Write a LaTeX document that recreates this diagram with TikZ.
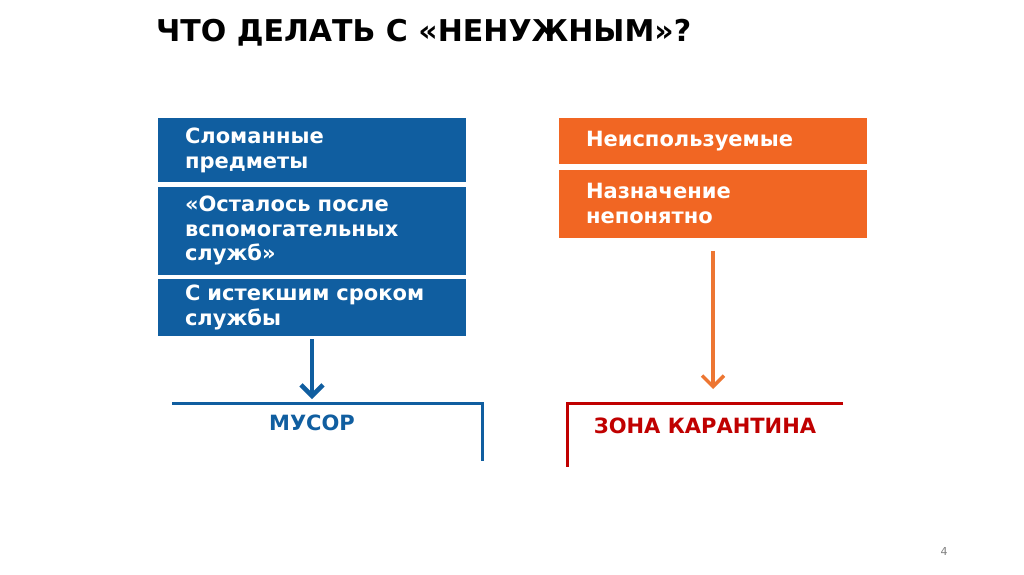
\documentclass[tikz,border=0pt]{standalone}
\usepackage{fontspec}
\setmainfont{DejaVu Sans}
\usetikzlibrary{positioning,arrows.meta}
\definecolor{boxblue}{RGB}{16,94,160}
\definecolor{boxorange}{RGB}{241,102,35}
\definecolor{arroworange}{RGB}{237,118,50}
\definecolor{zonered}{RGB}{192,0,0}
\tikzset{
	item/.style={text=white, font=\bfseries\fontsize{21}{24.5}\selectfont, inner xsep=27pt, inner ysep=0pt, text width=254pt, align=left},
	blueitem/.style={item, fill=boxblue},
	orangeitem/.style={item, fill=boxorange},
	zonelabel/.style={anchor=base, font=\bfseries\fontsize{21}{24}\selectfont},
	downarrow/.style={-{Straight Barb[length=11pt,width=22pt]}},
	bracket/.style={line width=3pt}
}
\begin{document}
\begin{tikzpicture}[x=1pt,y=-1pt]
	\useasboundingbox[fill=white] (0,0) rectangle (1024,574);

	% title
	\node[anchor=base west, inner sep=0pt, font=\bfseries\fontsize{30}{34}\selectfont] (title) at (156,41) {ЧТО ДЕЛАТЬ С «НЕНУЖНЫМ»?};

	% left column
	\node[blueitem, anchor=north, minimum height=64pt] (broken) at (312,118) {Сломанные\\предметы};
	\node[blueitem, anchor=north, minimum height=88pt, below=4pt of broken] (leftover) {«Осталось после вспомогательных служб»};
	\node[blueitem, anchor=north, minimum height=57pt, below=4pt of leftover] (expired) {С истекшим сроком службы};

	% right column
	\node[orangeitem, anchor=north, minimum height=46pt] (unused) at (713,118) {Неиспользуемые};
	\node[orangeitem, anchor=north, minimum height=68pt, below=5pt of unused] (unclear) {Назначение\\непонятно};

	% trash
	\coordinate (trashL) at (172,403);
	\coordinate (trashR) at (482,403);
	\coordinate (trashE) at (482,461);
	\coordinate (trashtip) at (312,399);
	\draw[bracket, boxblue] (trashL) -- (trashR) -- (trashE);
	\node[zonelabel, text=boxblue] (trash) at (312,430) {МУСОР};
	\draw[downarrow, boxblue, line width=4.5pt] ([yshift=-3pt]expired.south) -- (trashtip);

	% quarantine
	\coordinate (quarR) at (843,403);
	\coordinate (quarL) at (567,403);
	\coordinate (quarE) at (567,467);
	\coordinate (quartip) at (713,389);
	\draw[bracket, zonered] (quarR) -- (quarL) -- (quarE);
	\node[zonelabel, text=zonered] (quarantine) at (705,433) {ЗОНА КАРАНТИНА};
	\draw[downarrow, arroworange, line width=3.5pt] ([yshift=-13pt]unclear.south) -- (quartip);

	% page number
	\node[text=gray, font=\fontsize{11}{13}\selectfont] (page) at (944,551) {4};

\end{tikzpicture}
\end{document}
